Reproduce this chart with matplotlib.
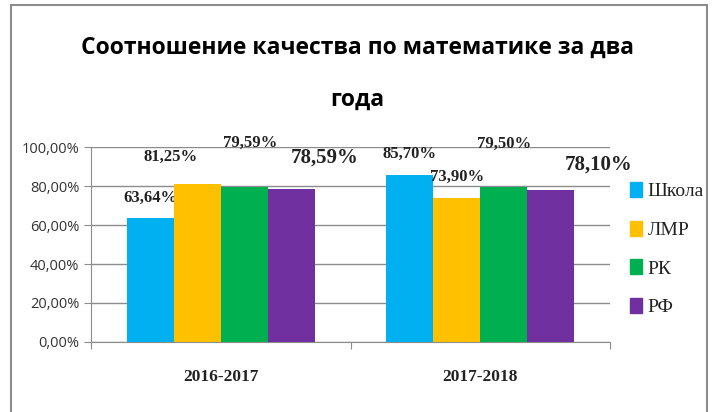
import matplotlib.pyplot as plt
import numpy as np
from matplotlib.patches import Rectangle
from matplotlib.ticker import FuncFormatter

years = ['2016-2017', '2017-2018']
series = ['Школа', 'ЛМР', 'РК', 'РФ']
school = [63.64, 85.70]
lmr = [81.25, 73.90]
rk = [79.59, 79.50]
rf = [78.59, 78.10]
colors = ['#00B0F0', '#FFC000', '#00B050', '#7030A0']

# label offsets (pixels) relative to the top centre of each bar, as placed in the original
label_offsets = [
    [(0, 20), (0, 21)],
    [(-27, 27), (0, 21)],
    [(6, 44), (0, 43)],
    [(33, 31), (48, 25)],
]
label_sizes = [12, 12, 12, 15]
serif = 'Liberation Serif'

fig = plt.figure(figsize=(7.12, 4.12), dpi=100)

leg_handles = [Rectangle((0, 0), 1, 1, color=c) for c in colors]
leg = fig.legend(leg_handles, series, loc='center left', bbox_to_anchor=(0.885, 0.395),
                 frameon=False, borderpad=0, borderaxespad=0,
                 handlelength=0.6, handleheight=0.8, handletextpad=0.3,
                 labelspacing=1.05, prop={'family': serif, 'size': 14})
for t in leg.get_texts():
    t.set_color('#222222')
leg.set_zorder(2)  # draw before the title texts

ax = fig.add_axes([0.128, 0.170, 0.729, 0.473])

values = [school, lmr, rk, rf]
x = np.arange(len(years))
w = 0.181
for i, (name, vals) in enumerate(zip(series, values)):
    pos = x + (i - 1.5) * w
    ax.bar(pos, vals, width=w, color=colors[i], label=name, zorder=3)
    for j, v in enumerate(vals):
        dx, dy = label_offsets[i][j]
        ax.annotate(f'{v:.2f}%'.replace('.', ','), (pos[j], v),
                    xytext=(dx, dy), textcoords='offset pixels',
                    ha='center', va='center', family=serif,
                    fontweight='bold', fontsize=label_sizes[i], color='#222222',
                    annotation_clip=False)

ax.set_xlim(-0.5, 1.5)
ax.set_ylim(0, 100)
ax.set_yticks(np.arange(0, 101, 20))
ax.yaxis.set_major_formatter(FuncFormatter(lambda v, p: f'{v:.2f}%'.replace('.', ',')))
ax.grid(axis='y', color='#8c8c8c', linewidth=1, zorder=0)
ax.set_xticks([-0.5, 0.5, 1.5])
ax.set_xticklabels([])
ax.tick_params(axis='x', length=5, color='#8c8c8c', direction='out')
ax.tick_params(axis='y', length=5, color='#8c8c8c', labelcolor='#333333')
for lab in ax.get_yticklabels():
    lab.set_family('Open Sans')
    lab.set_fontsize(10.5)
for i, yr in enumerate(years):
    ax.text(x[i], -18, yr, ha='center', va='center', family=serif,
            fontweight='bold', fontsize=12.5, color='#222222')
for s in ['top', 'right']:
    ax.spines[s].set_visible(False)
ax.spines['left'].set_color('#8c8c8c')
ax.spines['bottom'].set_color('#8c8c8c')

fig.text(0.502, 0.885, 'Соотношение качества по математике за два', ha='center', va='center',
         family='Open Sans', fontweight='bold', fontsize=16.5)
fig.text(0.502, 0.757, 'года', ha='center', va='center',
         family='Open Sans', fontweight='bold', fontsize=16.5)

fig.add_artist(Rectangle((0.015, -0.1), 0.978, 1.087, transform=fig.transFigure,
                         fill=False, edgecolor='#8c8c8c', linewidth=1.5))

fig.savefig('out.png', dpi=100)
